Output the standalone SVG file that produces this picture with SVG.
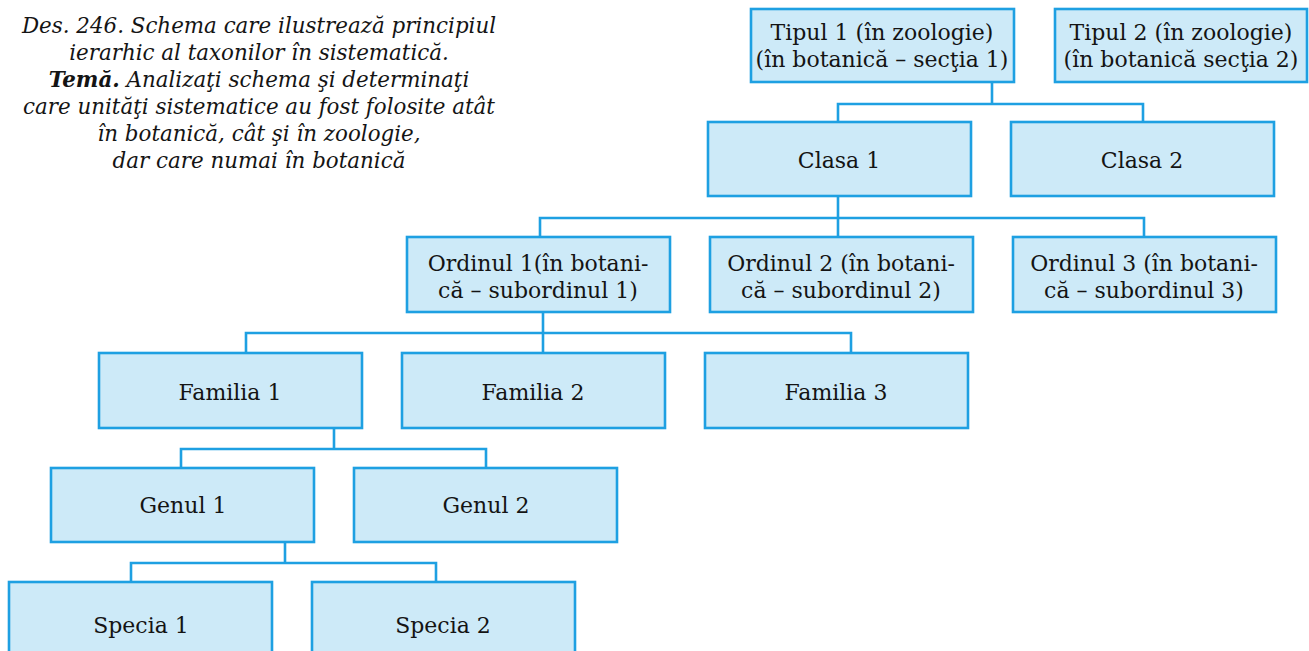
<svg xmlns="http://www.w3.org/2000/svg" width="1309" height="651" viewBox="0 0 1309 651">
<style>
.box{fill:#cdeaf8;stroke:#1ea0e2;stroke-width:2.6}
.t{font-family:"DejaVu Serif","Liberation Serif",serif;font-size:22px;fill:#141414;text-anchor:middle}
.cap{font-family:"DejaVu Serif","Liberation Serif",serif;font-size:21.4px;font-style:italic;fill:#141414;text-anchor:middle}
.cn{fill:none;stroke:#1ea0e2;stroke-width:2.6}
</style>
<rect width="1309" height="651" fill="#ffffff"/>
<g id="caption">
<text class="cap" x="259" y="33">Des. 246. Schema care ilustrează principiul</text>
<text class="cap" x="259" y="60">ierarhic al taxonilor în sistematică.</text>
<text class="cap" x="259" y="87"><tspan font-weight="bold">Temă.</tspan> Analizaţi schema şi determinaţi</text>
<text class="cap" x="259" y="114">care unităţi sistematice au fost folosite atât</text>
<text class="cap" x="259" y="141">în botanică, cât şi în zoologie,</text>
<text class="cap" x="259" y="168">dar care numai în botanică</text>
</g>
<g id="connectors">
<path class="cn" d="M992 82V104M838 122V104H1143V122"/>
<path class="cn" d="M838 196V237M540 237V218H1144V237"/>
<path class="cn" d="M543 312V353M246 353V333H851V353"/>
<path class="cn" d="M334 428V449M181 468V449H486V468"/>
<path class="cn" d="M285 542V563M131 582V563H436V582"/>
</g>
<g id="tipul1"><rect class="box" x="751" y="9" width="263" height="73"/><text class="t" x="882" y="40">Tipul 1 (în zoologie)</text><text class="t" x="882" y="67">(în botanică – secţia 1)</text></g>
<g id="tipul2"><rect class="box" x="1055" y="9" width="252" height="73"/><text class="t" x="1181" y="40">Tipul 2 (în zoologie)</text><text class="t" x="1181" y="67">(în botanică secţia 2)</text></g>
<g id="clasa1"><rect class="box" x="708" y="122" width="263" height="74"/><text class="t" x="839" y="168">Clasa 1</text></g>
<g id="clasa2"><rect class="box" x="1011" y="122" width="263" height="74"/><text class="t" x="1142" y="168">Clasa 2</text></g>
<g id="ordinul1"><rect class="box" x="407" y="237" width="263" height="75"/><text class="t" x="538" y="271">Ordinul 1(în botani-</text><text class="t" x="538" y="298">că – subordinul 1)</text></g>
<g id="ordinul2"><rect class="box" x="710" y="237" width="263" height="75"/><text class="t" x="841" y="271">Ordinul 2 (în botani-</text><text class="t" x="841" y="298">că – subordinul 2)</text></g>
<g id="ordinul3"><rect class="box" x="1013" y="237" width="263" height="75"/><text class="t" x="1144" y="271">Ordinul 3 (în botani-</text><text class="t" x="1144" y="298">că – subordinul 3)</text></g>
<g id="familia1"><rect class="box" x="99" y="353" width="263" height="75"/><text class="t" x="230" y="400">Familia 1</text></g>
<g id="familia2"><rect class="box" x="402" y="353" width="263" height="75"/><text class="t" x="533" y="400">Familia 2</text></g>
<g id="familia3"><rect class="box" x="705" y="353" width="263" height="75"/><text class="t" x="836" y="400">Familia 3</text></g>
<g id="genul1"><rect class="box" x="51" y="468" width="263" height="74"/><text class="t" x="183" y="513">Genul 1</text></g>
<g id="genul2"><rect class="box" x="354" y="468" width="263" height="74"/><text class="t" x="486" y="513">Genul 2</text></g>
<g id="specia1"><rect class="box" x="9" y="582" width="263" height="80"/><text class="t" x="141" y="633">Specia 1</text></g>
<g id="specia2"><rect class="box" x="312" y="582" width="263" height="80"/><text class="t" x="443" y="633">Specia 2</text></g>
</svg>
